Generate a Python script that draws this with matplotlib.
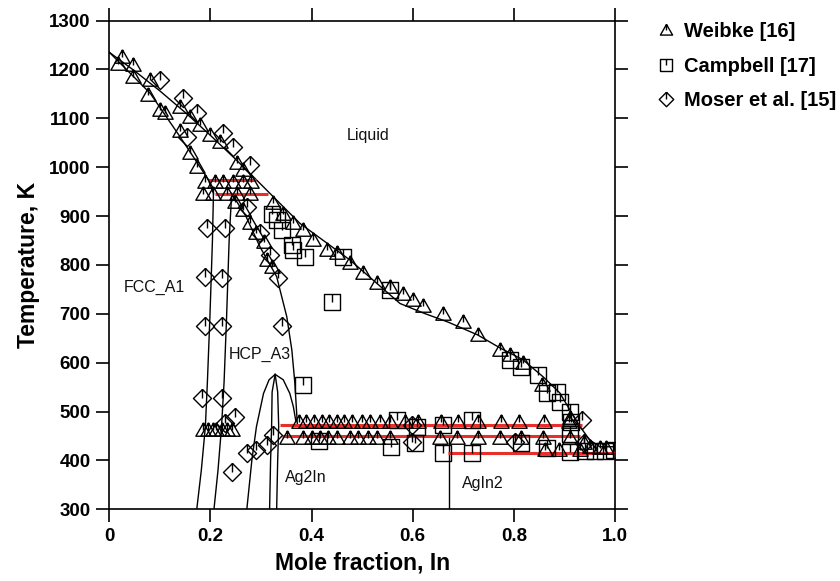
import matplotlib
matplotlib.use("Agg")
import matplotlib.pyplot as plt
from matplotlib.path import Path

plt.rcParams["font.family"] = ["Liberation Sans", "DejaVu Sans"]

# phase boundaries (mole fraction In, T in K)
liq_x = [0, 0.05, 0.10, 0.15, 0.20, 0.25, 0.291, 0.318, 0.377, 0.476, 0.575,
         0.62, 0.67, 0.728, 0.773, 0.818, 0.858, 0.891, 0.911, 0.931, 0.950,
         0.970, 1.0]
liq_T = [1235, 1197, 1156, 1112, 1065, 1016, 974, 946, 885, 810, 721,
         702, 683, 657, 630, 606, 571, 538, 503, 469, 442, 428, 428]

sol_x = [0, 0.081, 0.14, 0.179, 0.196]
sol_T = [1235, 1151, 1062, 1001, 974]

fcc_x = [0.196, 0.206, 0.204, 0.199, 0.194, 0.190, 0.182, 0.173]
fcc_T = [974, 946, 850, 694, 560, 469, 380, 300]

hcp_l_x = [0.242, 0.237, 0.232, 0.227, 0.222, 0.215, 0.207]
hcp_l_T = [946, 850, 694, 560, 469, 380, 300]

hcp_r_x = [0.242, 0.27, 0.298, 0.331, 0.351, 0.361, 0.367, 0.371, 0.372]
hcp_r_T = [946, 900, 837, 776, 694, 626, 558, 489, 472]

dome_x = [0.272, 0.282, 0.291, 0.305, 0.316, 0.328, 0.344, 0.357, 0.364, 0.369]
dome_T = [300, 401, 469, 537, 565, 576, 565, 537, 510, 480]

ag2in_l_x = [0.328, 0.322, 0.321, 0.319, 0.317]
ag2in_l_T = [576, 540, 470, 400, 300]
ag2in_r_x = [0.328, 0.333, 0.335, 0.333, 0.331]
ag2in_r_T = [576, 540, 470, 400, 300]

agin2_x = [0.672, 0.672]
agin2_T = [450, 300]

# invariant reactions (T, x_start, x_end)
inv_T = [974, 946, 472, 450, 415]
inv_x0 = [0.196, 0.209, 0.338, 0.341, 0.670]
inv_x1 = [0.291, 0.314, 0.934, 0.931, 1.0]

# experimental points
weibke_x = [0.018, 0.025, 0.047, 0.047, 0.08, 0.077, 0.10, 0.11, 0.14, 0.14,
            0.16, 0.18, 0.20, 0.16, 0.173, 0.219, 0.252, 0.265,
            0.19, 0.21, 0.225, 0.245, 0.265, 0.28,
            0.186, 0.206, 0.233, 0.253, 0.279,
            0.249, 0.265, 0.278, 0.291, 0.305, 0.311, 0.321,
            0.324, 0.344, 0.364, 0.384, 0.403, 0.43, 0.45, 0.476, 0.502, 0.529,
            0.555, 0.58, 0.60, 0.62, 0.66, 0.70, 0.73, 0.773, 0.792, 0.819,
            0.855, 0.911, 0.938, 0.95, 0.97, 0.983,
            0.186, 0.196, 0.206, 0.212, 0.222, 0.232, 0.242,
            0.375, 0.39, 0.405, 0.42, 0.435, 0.45, 0.465, 0.48, 0.50, 0.515,
            0.535, 0.555, 0.585, 0.61, 0.655, 0.69, 0.73, 0.775, 0.81, 0.86, 0.91,
            0.351, 0.384, 0.40, 0.417, 0.433, 0.45, 0.476, 0.492, 0.512, 0.529,
            0.555, 0.654, 0.687, 0.73, 0.773, 0.815, 0.858, 0.911,
            0.862, 0.89, 0.93]
weibke_T = [1212, 1226, 1209, 1185, 1178, 1148, 1117, 1110, 1124, 1073,
            1103, 1086, 1066, 1028, 1001, 1052, 1008, 994,
            970, 970, 970, 970, 970, 970,
            946, 946, 946, 946, 946,
            929, 912, 885, 865, 847, 810, 796,
            926, 905, 885, 871, 851, 830, 824, 803, 783, 762,
            755, 740, 728, 716, 700, 684, 657, 626, 616, 599,
            554, 486, 435, 428, 425, 425,
            462, 462, 462, 462, 462, 462, 462,
            479, 479, 479, 479, 479, 479, 479, 479, 479, 479,
            479, 479, 479, 479, 479, 479, 479, 479, 479, 479, 479,
            445, 445, 445, 445, 445, 445, 445, 445, 445, 445,
            445, 445, 445, 445, 445, 445, 445, 445,
            421, 421, 421]

campbell_x = [0.321, 0.331, 0.341, 0.361, 0.364, 0.387, 0.44, 0.384, 0.463,
              0.555, 0.792, 0.815, 0.848, 0.865, 0.885, 0.891, 0.911, 0.914,
              0.911, 0.568, 0.608, 0.66, 0.66, 0.717, 0.717, 0.558, 0.605,
              0.815, 0.865, 0.911, 0.94, 0.96, 0.98, 0.998, 0.415]
campbell_T = [905, 892, 871, 841, 830, 817, 725, 554, 817,
              749, 605, 592, 575, 537, 540, 520, 500, 479,
              455, 483, 469, 472, 415, 483, 415, 428, 435,
              435, 425, 418, 420, 420, 420, 422, 440]

moser_x = [0.10, 0.146, 0.173, 0.153, 0.225, 0.245, 0.278, 0.272, 0.298,
           0.318, 0.334, 0.341, 0.193, 0.229, 0.189, 0.222, 0.189, 0.222,
           0.183, 0.222, 0.249, 0.229, 0.242, 0.272, 0.291, 0.311, 0.324,
           0.598, 0.598, 0.802, 0.934, 0.938]
moser_T = [1178, 1141, 1110, 1062, 1069, 1042, 1004, 919, 865,
           820, 773, 674, 875, 875, 776, 773, 674, 674,
           527, 527, 489, 476, 377, 415, 421, 432, 452,
           472, 438, 438, 483, 435]

labels = ["Weibke [16]", "Campbell [17]", "Moser et al. [15]"]


def pin_marker(outline):
    """Open outline with a short stroke from the top down to the centre."""
    verts = list(outline) + [(0, 1), (0, 0)]
    codes = ([Path.MOVETO] + [Path.LINETO] * (len(outline) - 1)
             + [Path.MOVETO, Path.LINETO])
    return Path(verts, codes)


tri = pin_marker([(0, 1), (-1, -0.75), (1, -0.75), (0, 1)])
sq = pin_marker([(-1, -1), (1, -1), (1, 1), (-1, 1), (-1, -1)])
dia = pin_marker([(0, 1), (1, 0), (0, -1), (-1, 0), (0, 1)])

fig = plt.figure(figsize=(8.4, 5.81), dpi=100)
ax = fig.add_axes([0.1301, 0.1234, 0.6020, 0.8413])

lw = 1.0
for xs, ts in [(liq_x, liq_T), (sol_x, sol_T), (fcc_x, fcc_T),
               (hcp_l_x, hcp_l_T), (hcp_r_x, hcp_r_T), (dome_x, dome_T),
               (ag2in_l_x, ag2in_l_T), (ag2in_r_x, ag2in_r_T),
               (agin2_x, agin2_T)]:
    ax.plot(xs, ts, color="black", lw=lw, zorder=2)

ax.hlines(inv_T, inv_x0, inv_x1, color="#e8302a", lw=2.2, zorder=3)

mk = dict(ls="none", mfc="none", mec="black", mew=1.0, zorder=4)
ax.plot(weibke_x, weibke_T, marker=tri, ms=11, label=labels[0], **mk)
ax.plot(campbell_x, campbell_T, marker=sq, ms=11, label=labels[1], **mk)
ax.plot(moser_x, moser_T, marker=dia, ms=13, label=labels[2], **mk)

txt = dict(fontsize=11.5, color="#111111")
ax.text(0.5125, 1064, "Liquid", ha="center", va="center", **txt)
ax.text(0.15, 754, "FCC_A1", ha="right", va="center", **txt)
ax.text(0.236, 617, "HCP_A3", ha="left", va="center", **txt)
ax.text(0.347, 365, "Ag2In", ha="left", va="center", **txt)
ax.text(0.697, 352, "AgIn2", ha="left", va="center", **txt)

ax.set_xlim(0, 1)
ax.set_ylim(300, 1300)
ax.set_xticks([0, 0.2, 0.4, 0.6, 0.8, 1.0])
ax.set_xticklabels(["0", "0.2", "0.4", "0.6", "0.8", "1.0"])
ax.set_yticks(range(300, 1301, 100))
ax.tick_params(direction="out", length=9.5, width=1.2, top=True, right=True,
               labelsize=13.5, pad=4)
for lab in ax.get_xticklabels() + ax.get_yticklabels():
    lab.set_fontweight("bold")
for sp in ax.spines.values():
    sp.set_linewidth(1.2)

ax.set_xlabel("Mole fraction, In", fontsize=16.5, fontweight="bold", labelpad=5)
ax.set_ylabel("Temperature, K", fontsize=16.5, fontweight="bold")
ax.yaxis.set_label_coords(-0.138, 0.5)

fig.legend(loc="upper left", bbox_to_anchor=(656 / 840, 1 - 22 / 581),
           frameon=False, prop={"weight": "bold", "size": 14.5},
           handlelength=1.0, handletextpad=0.4, borderpad=0, borderaxespad=0,
           labelspacing=0.78, markerscale=0.8)

fig.savefig("out.png", dpi=100)
